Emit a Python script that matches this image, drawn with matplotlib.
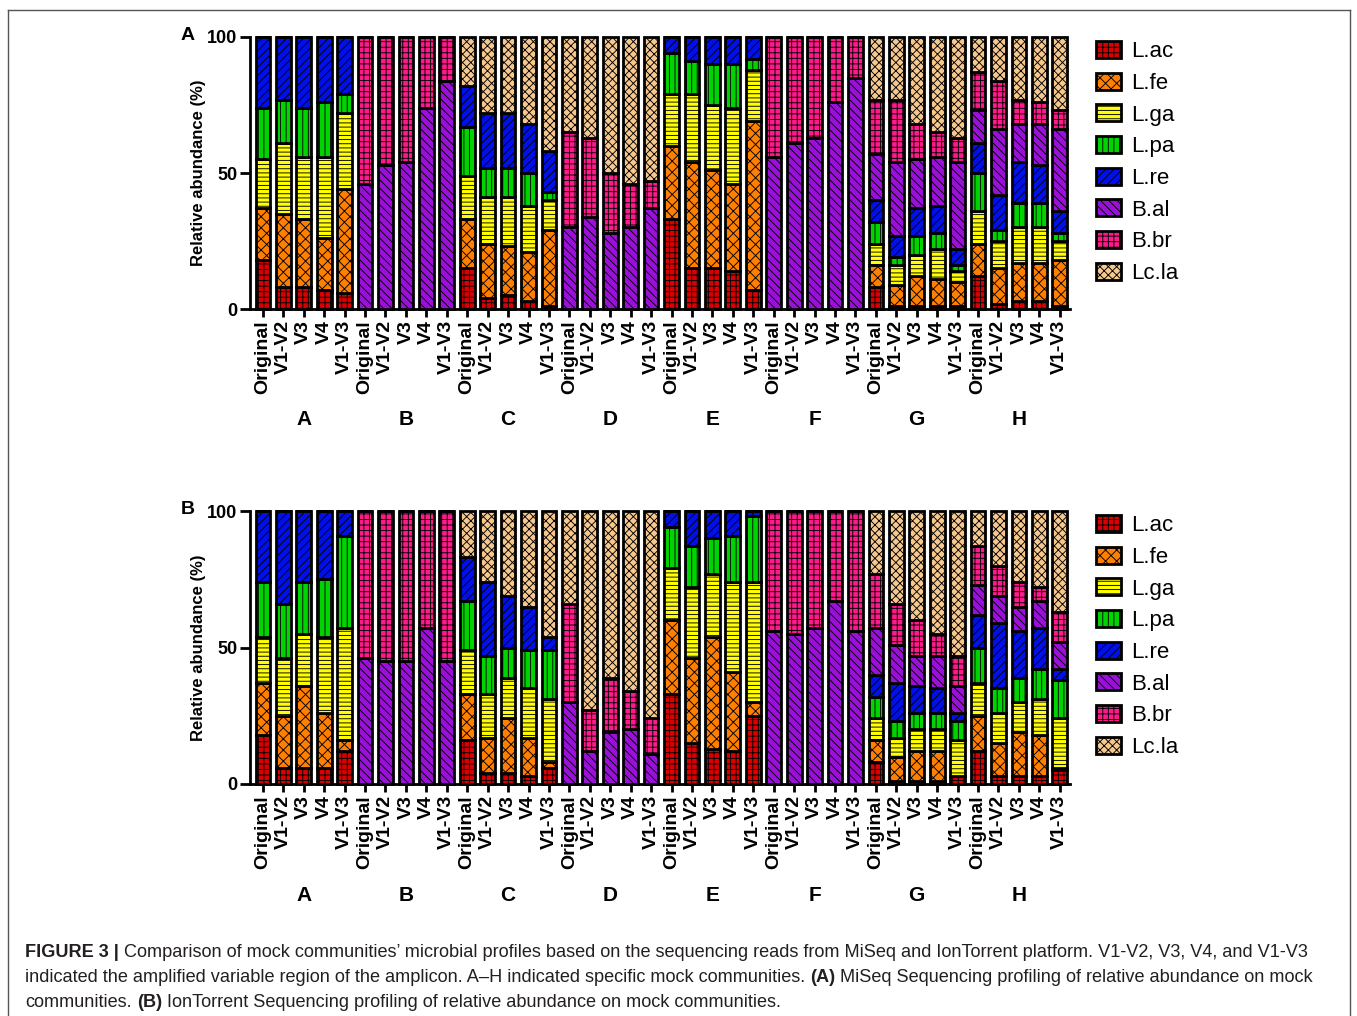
import matplotlib
matplotlib.use("Agg")
import matplotlib.pyplot as plt
import matplotlib.transforms as mtransforms
from matplotlib.lines import Line2D
from matplotlib.patches import Patch
import numpy as np

plt.rcParams["font.family"] = ["Liberation Sans", "DejaVu Sans"]
plt.rcParams["hatch.linewidth"] = 0.65

W, H = 1357, 1016

GROUPS = ["A", "B", "C", "D", "E", "F", "G", "H"]
REGIONS = ["Original", "V1-V2", "V3", "V4", "V1-V3"]
SPECIES = ["L.ac", "L.fe", "L.ga", "L.pa", "L.re", "B.al", "B.br", "Lc.la"]
COLORS = ["#d80000", "#ff8000", "#ffff00", "#00d400", "#0010e8", "#9a10d8", "#ff1a8c", "#f7c88e"]
HATCHES = ["+++", "xxx", "----", "|||", "////", "\\\\\\\\", "+++", "xxxx"]

Z = [0, 0, 0, 0, 0]

# (A) MiSeq, % per sample, groups A..H x 5 regions
miseq_lac = [18, 8, 8, 7, 6] + Z + [15, 4, 5, 3, 1] + Z + [33, 15, 15, 14, 7] + Z + [8, 1, 1, 1, 1] + [12, 2, 3, 3, 1]
miseq_lfe = [19, 27, 25, 19, 38] + Z + [18, 20, 18, 18, 28] + Z + [27, 39, 36, 32, 62] + Z + [8, 8, 11, 10, 9] + [12, 13, 14, 14, 17]
miseq_lga = [18, 26, 23, 30, 28] + Z + [16, 17, 18, 17, 11] + Z + [19, 25, 24, 28, 19] + Z + [8, 7, 8, 11, 4] + [12, 10, 13, 13, 7]
miseq_lpa = [19, 16, 18, 20, 7] + Z + [18, 11, 11, 12, 3] + Z + [15, 12, 15, 16, 4] + Z + [8, 3, 7, 6, 2] + [14, 4, 9, 9, 3]
miseq_lre = [26, 23, 26, 24, 21] + Z + [15, 20, 20, 18, 15] + Z + [6, 9, 10, 10, 8] + Z + [8, 8, 10, 10, 6] + [11, 13, 15, 14, 8]
miseq_bal = Z + [46, 53, 54, 74, 84] + Z + [30, 34, 28, 30, 37] + Z + [56, 61, 63, 76, 85] + [17, 27, 18, 18, 32] + [12, 24, 14, 15, 30]
miseq_bbr = Z + [54, 47, 46, 26, 16] + Z + [35, 29, 22, 16, 10] + Z + [44, 39, 37, 24, 15] + [20, 23, 13, 9, 9] + [14, 18, 9, 8, 7]
miseq_lcla = Z + Z + [18, 28, 28, 32, 42] + [35, 37, 50, 54, 53] + Z + Z + [23, 23, 32, 35, 37] + [13, 16, 23, 24, 27]

# (B) IonTorrent
ion_lac = [18, 6, 6, 6, 12] + Z + [16, 4, 4, 3, 6] + Z + [33, 15, 13, 12, 25] + Z + [8, 1, 1, 1, 3] + [12, 3, 3, 3, 5]
ion_lfe = [19, 19, 30, 20, 4] + Z + [17, 13, 20, 14, 2] + Z + [27, 31, 41, 29, 5] + Z + [8, 9, 11, 11, 0] + [13, 12, 16, 15, 1]
ion_lga = [17, 21, 19, 28, 41] + Z + [16, 16, 15, 18, 23] + Z + [19, 26, 23, 33, 44] + Z + [8, 7, 8, 8, 13] + [12, 11, 11, 13, 18]
ion_lpa = [20, 20, 19, 21, 34] + Z + [18, 14, 11, 14, 18] + Z + [15, 15, 13, 17, 24] + Z + [8, 6, 6, 6, 7] + [13, 9, 9, 11, 14]
ion_lre = [26, 34, 26, 25, 9] + Z + [16, 27, 19, 16, 5] + Z + [6, 13, 10, 9, 2] + Z + [8, 14, 10, 9, 3] + [12, 24, 17, 15, 4]
ion_bal = Z + [46, 45, 45, 57, 45] + Z + [30, 12, 19, 20, 11] + Z + [56, 55, 57, 67, 56] + [17, 14, 11, 12, 10] + [11, 10, 9, 10, 10]
ion_bbr = Z + [54, 55, 55, 43, 55] + Z + [36, 15, 20, 14, 13] + Z + [44, 45, 43, 33, 44] + [20, 15, 13, 8, 11] + [14, 11, 9, 5, 11]
ion_lcla = Z + Z + [17, 26, 31, 35, 46] + [34, 73, 61, 66, 76] + Z + Z + [23, 34, 40, 45, 53] + [13, 20, 26, 28, 37]

miseq = [miseq_lac, miseq_lfe, miseq_lga, miseq_lpa, miseq_lre, miseq_bal, miseq_bbr, miseq_lcla]
ion = [ion_lac, ion_lfe, ion_lga, ion_lpa, ion_lre, ion_bal, ion_bbr, ion_lcla]


def px_axes(fig, x0, y0, x1, y1):
    return fig.add_axes([x0 / W, 1 - y1 / H, (x1 - x0) / W, (y1 - y0) / H])


def draw_panel(fig, ax, data, letter, top_px):
    x = np.arange(len(GROUPS) * len(REGIONS))
    bottom = np.zeros(len(x))
    for vals, color, hatch in zip(data, COLORS, HATCHES):
        vals = np.array(vals, dtype=float)
        ax.bar(x, vals, 0.72, bottom=bottom, color=color, edgecolor="black",
               linewidth=2, hatch=hatch, clip_on=False, zorder=3)
        bottom += vals

    ax.set_xlim(-0.63, 39.5)
    ax.set_ylim(0, 100)
    ax.set_yticks([0, 50, 100])
    ax.set_yticklabels(["0", "50", "100"], fontsize=13, fontweight="bold")
    ax.set_xticks(x)
    ax.set_xticklabels(REGIONS * len(GROUPS), rotation=90, fontsize=14, fontweight="bold")
    ax.tick_params(axis="x", length=6, width=2, pad=2)
    ax.tick_params(axis="y", length=7, width=2, pad=2)
    for s in ("top", "right"):
        ax.spines[s].set_visible(False)
    for s in ("left", "bottom"):
        ax.spines[s].set_linewidth(2)
    ax.set_ylabel("Relative abundance (%)", fontsize=12, fontweight="bold", labelpad=1)

    trans = mtransforms.blended_transform_factory(ax.transData, ax.transAxes)
    for i, g in enumerate(GROUPS):
        ax.text(i * 5 + 2, -0.408, g, transform=trans, ha="center", va="center",
                fontsize=15, fontweight="bold")

    fig.text(188 / W, 1 - (top_px - 2) / H, letter, ha="center", va="center",
             fontsize=14, fontweight="bold")

    handles = [Patch(facecolor=c, edgecolor="black", hatch=h, linewidth=2)
               for c, h in zip(COLORS, HATCHES)]
    fig.legend(handles, SPECIES, loc="upper left", bbox_to_anchor=(1096 / W, 1 - (top_px + 4) / H),
               frameon=False, fontsize=16, handlelength=1.13, handleheight=0.8,
               handletextpad=0.45, labelspacing=0.47, borderpad=0, borderaxespad=0)


fig = plt.figure(figsize=(W / 100, H / 100), dpi=100)

ax_a = px_axes(fig, 250, 37, 1070, 309)
draw_panel(fig, ax_a, miseq, "A", 37)
ax_b = px_axes(fig, 250, 511, 1070, 784)
draw_panel(fig, ax_b, ion, "B", 511)

# frame around the figure area
for xs, ys in [((8, 8), (10, H + 5)), ((1350, 1350), (10, H + 5)), ((8, 1350), (10, 10))]:
    fig.add_artist(Line2D([xx / W for xx in xs], [1 - yy / H for yy in ys],
                          transform=fig.transFigure, color="#555555", lw=1))

# caption with bold runs
CAP_FONT = ["Liberation Sans", "DejaVu Sans"]
CAP_SIZE = 13.1
renderer = fig.canvas.get_renderer()


def text_width(s, bold):
    t = fig.text(0, 0, s, fontsize=CAP_SIZE, family=CAP_FONT,
                 fontweight="bold" if bold else "normal")
    w = t.get_window_extent(renderer=renderer).width
    t.remove()
    return w


space_w = text_width("a a", False) - text_width("aa", False)

caption = [
    [("FIGURE 3 |", True),
     ("Comparison of mock communities\u2019 microbial profiles based on the sequencing reads from MiSeq and IonTorrent platform. V1-V2, V3, V4, and V1-V3", False)],
    [("indicated the amplified variable region of the amplicon. A\u2013H indicated specific mock communities.", False),
     ("(A)", True),
     ("MiSeq Sequencing profiling of relative abundance on mock", False)],
    [("communities.", False), ("(B)", True),
     ("IonTorrent Sequencing profiling of relative abundance on mock communities.", False)],
]
for row, runs in enumerate(caption):
    xp = 25.0
    yp = 957 + row * 25
    for s, bold in runs:
        fig.text(xp / W, 1 - yp / H, s, fontsize=CAP_SIZE, family=CAP_FONT,
                 fontweight="bold" if bold else "normal", color="#231f20", va="baseline")
        xp += text_width(s, bold) + space_w

fig.savefig("out.png", dpi=100)
